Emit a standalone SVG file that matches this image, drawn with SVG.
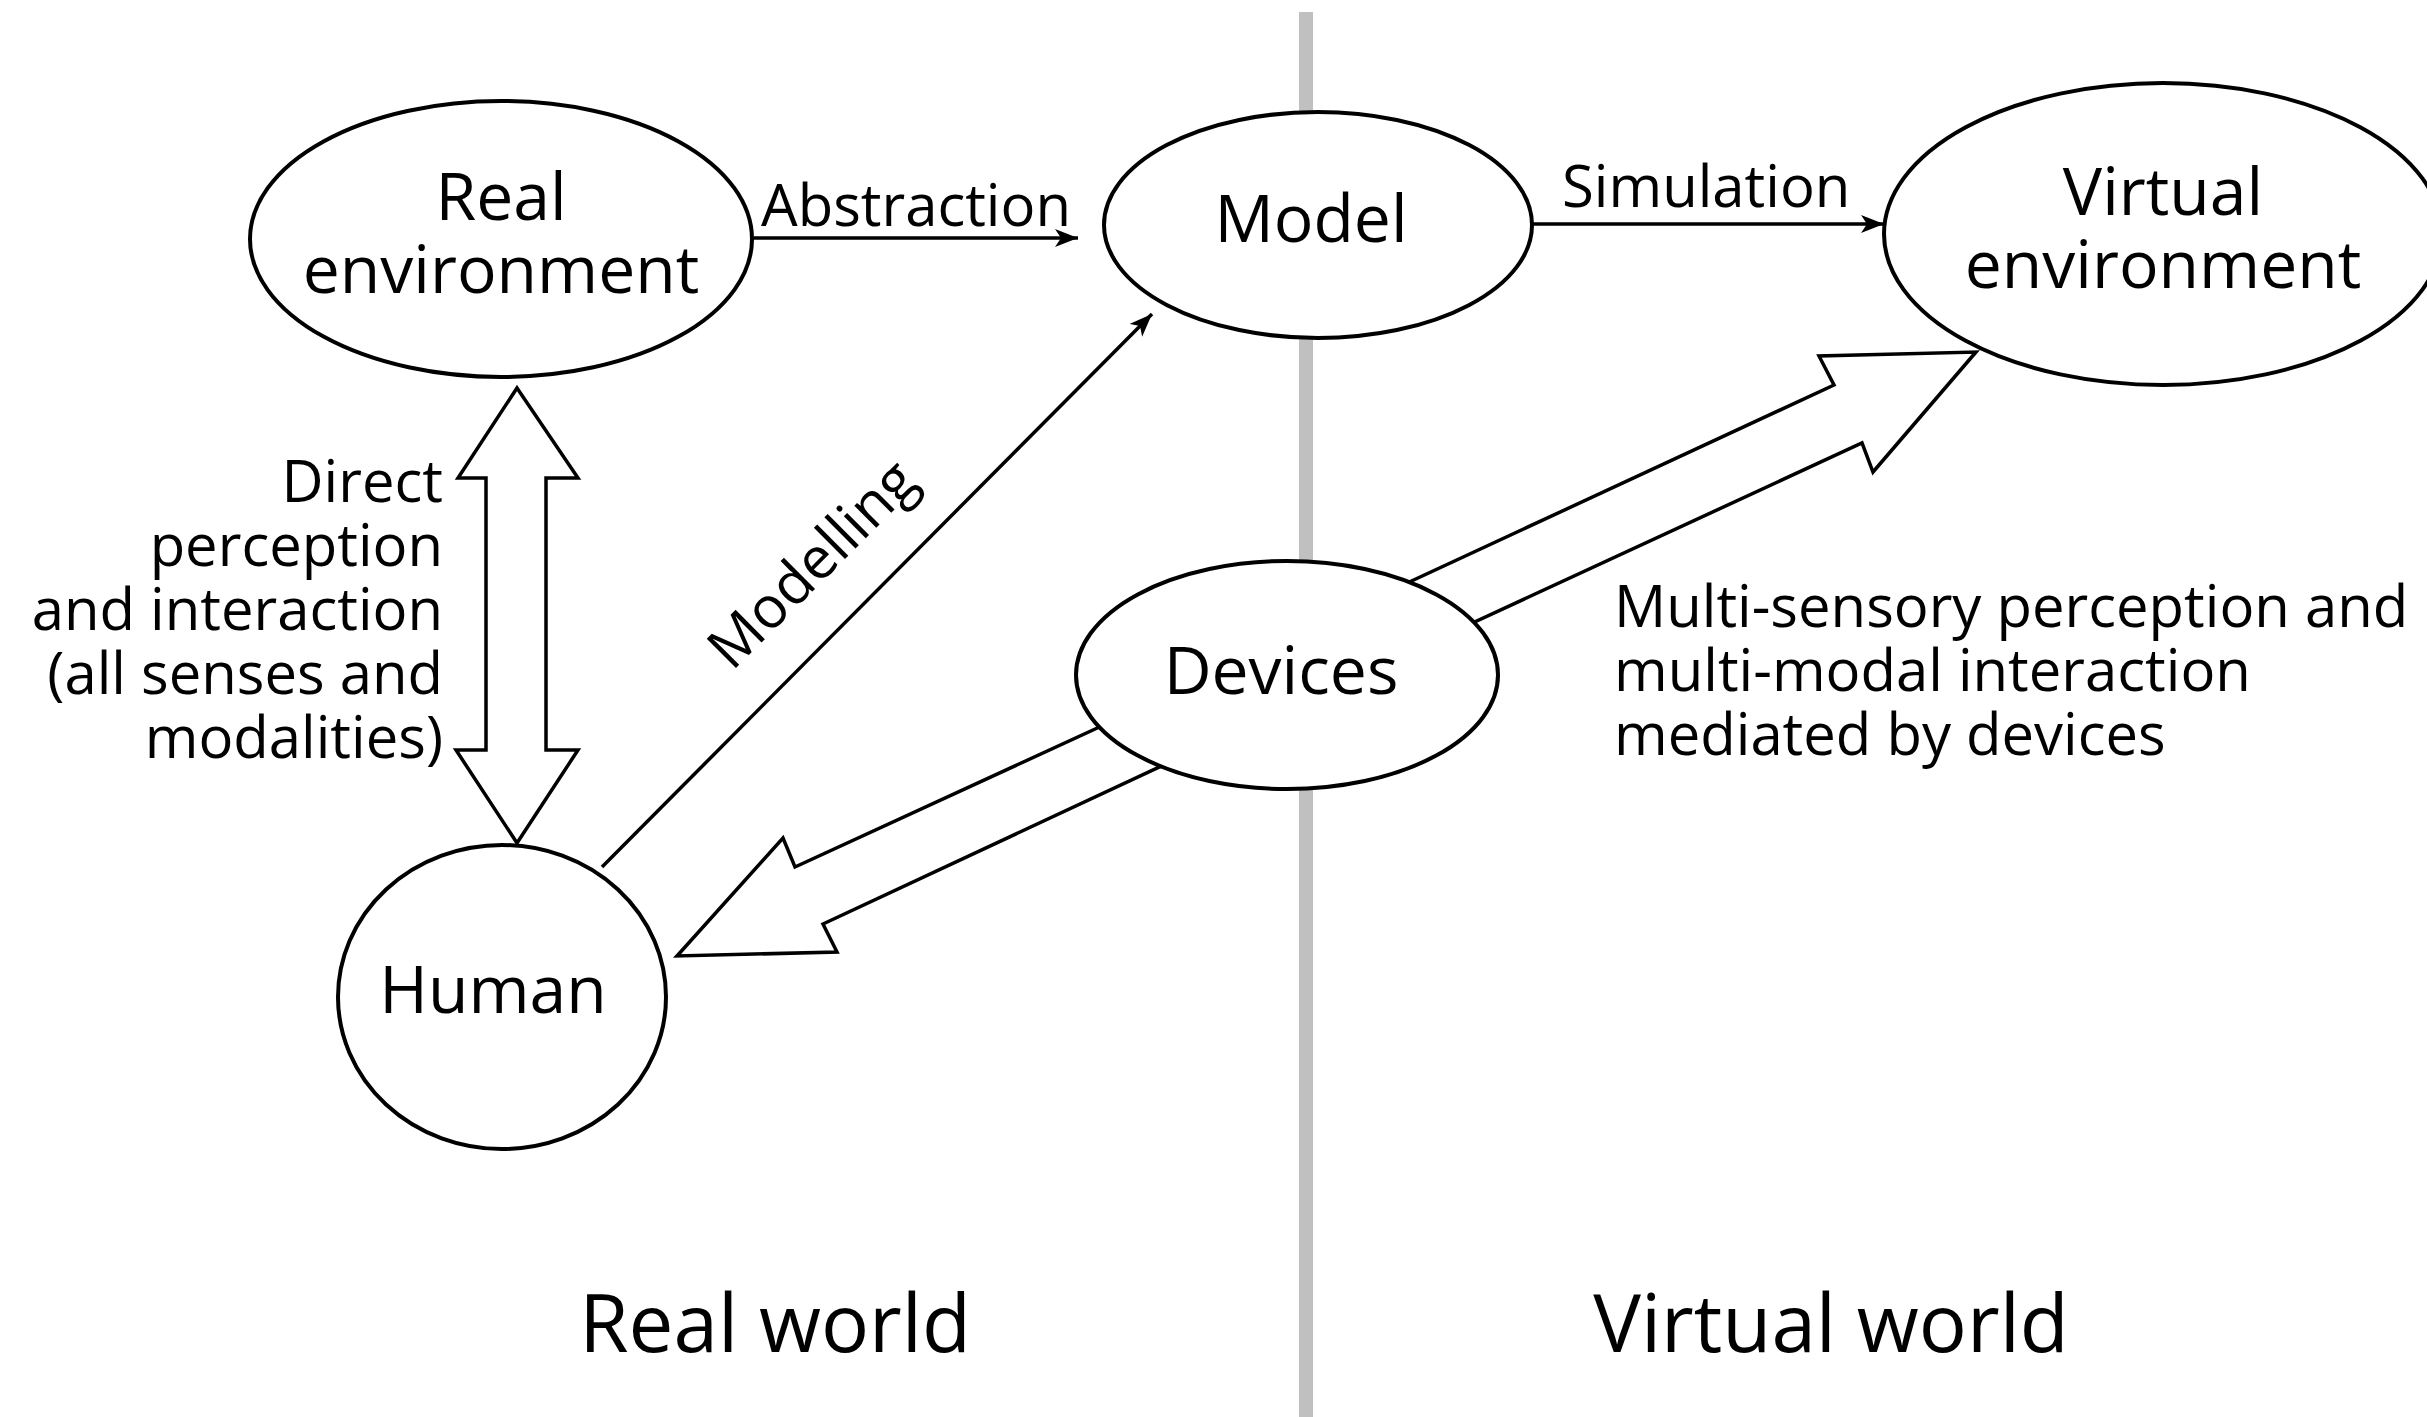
<svg xmlns="http://www.w3.org/2000/svg" width="2427" height="1417" viewBox="0 0 2427 1417">
<style>
.node{fill:#fff;stroke:#000;stroke-width:4}
.big{fill:#fff;stroke:#000;stroke-width:3.5;stroke-linejoin:miter}
.thin{fill:none;stroke:#000;stroke-width:3.5}
.nt{font-family:"Open Sans","Liberation Sans",sans-serif;font-size:66px;fill:#000;text-anchor:middle}
.lt{font-family:"Open Sans","Liberation Sans",sans-serif;font-size:58px;fill:#000}
.wt{font-family:"Open Sans","Liberation Sans",sans-serif;font-size:80px;fill:#000;text-anchor:middle}
</style>
<defs>
<marker id="ah" markerWidth="26" markerHeight="20" refX="23" refY="9" orient="auto" markerUnits="userSpaceOnUse">
<path d="M0,0 L23,9 L0,18 L6,9 Z" fill="#000"/>
</marker>
</defs>
<rect width="2427" height="1417" fill="#fff"/>
<line x1="1306" y1="12" x2="1306" y2="1417" stroke="#c0c0c0" stroke-width="14"/>
<g id="connectors">
<line class="thin" x1="753" y1="238" x2="1078" y2="238" marker-end="url(#ah)"/>
<line class="thin" x1="1533" y1="224" x2="1884" y2="224" marker-end="url(#ah)"/>
<line class="thin" x1="602" y1="867" x2="1152" y2="314" marker-end="url(#ah)"/>
<polygon class="big" points="517,388 578,478 546,478 546,750 578,750 517,843 456,750 486,750 486,478 458,478"/>
<polygon class="big" points="1106,724 795,867 783,838 677,956 837,952 823,924 1170,762"/>
<polygon class="big" points="1405,584 1834,385 1819,356 1976,352 1873,472 1862,443 1468,625"/>
<text class="lt" x="761" y="226">Abstraction</text>
<text class="lt" x="1562" y="207">Simulation</text>
<text class="lt" transform="translate(826,578) rotate(-45)" text-anchor="middle" font-size="60">Modelling</text>
<text class="lt" x="443" y="502" text-anchor="end">Direct</text>
<text class="lt" x="443" y="566" text-anchor="end">perception</text>
<text class="lt" x="443" y="630" text-anchor="end">and interaction</text>
<text class="lt" x="443" y="694" text-anchor="end">(all senses and</text>
<text class="lt" x="443" y="758" text-anchor="end">modalities)</text>
<text class="lt" x="1614" y="627">Multi-sensory perception and</text>
<text class="lt" x="1614" y="691">multi-modal interaction</text>
<text class="lt" x="1614" y="755">mediated by devices</text>
</g>
<g id="real-environment">
<ellipse class="node" cx="501" cy="239" rx="251" ry="138"/>
<text class="nt" x="501" y="220">Real</text>
<text class="nt" x="501" y="293">environment</text>
</g>
<g id="model">
<ellipse class="node" cx="1318" cy="225" rx="214" ry="113"/>
<text class="nt" x="1311" y="242">Model</text>
</g>
<g id="virtual-environment">
<ellipse class="node" cx="2163" cy="234" rx="279" ry="151"/>
<text class="nt" x="2163" y="215">Virtual</text>
<text class="nt" x="2163" y="288">environment</text>
</g>
<g id="devices">
<ellipse class="node" cx="1287" cy="675" rx="211" ry="114"/>
<text class="nt" x="1281" y="694">Devices</text>
</g>
<g id="human">
<ellipse class="node" cx="502" cy="997" rx="164" ry="152"/>
<text class="nt" x="493" y="1013">Human</text>
</g>
<g id="region-labels">
<text class="wt" x="775" y="1352">Real world</text>
<text class="wt" x="1831" y="1352">Virtual world</text>
</g>
</svg>
